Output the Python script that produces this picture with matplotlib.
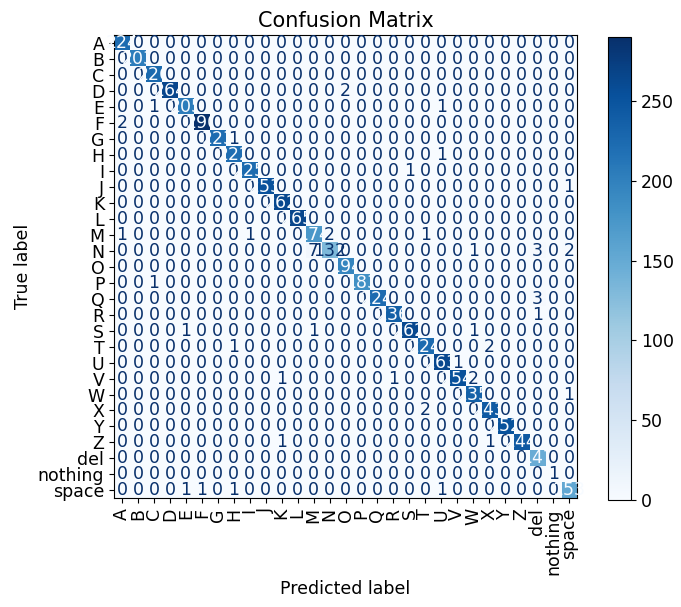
import numpy as np
import matplotlib
matplotlib.use('Agg')
import matplotlib.pyplot as plt

labels = ['A','B','C','D','E','F','G','H','I','J','K','L','M','N','O','P','Q','R','S','T',
          'U','V','W','X','Y','Z','del','nothing','space']

diag = [224, 203, 226, 264, 205, 290, 223, 222, 225, 253, 262, 265, 174, 132, 194,
        183, 224, 236, 262, 224, 263, 254, 235, 243, 252, 244, 147, 1, 153]

# misclassifications: (true, predicted, count)
errors = [
    ('D', 'O', 2),
    ('E', 'C', 1), ('E', 'U', 1),
    ('F', 'A', 2),
    ('G', 'H', 1),
    ('H', 'U', 1),
    ('I', 'S', 1),
    ('J', 'space', 1),
    ('M', 'A', 1), ('M', 'I', 1), ('M', 'N', 2), ('M', 'T', 1),
    ('N', 'M', 7), ('N', 'W', 1), ('N', 'del', 3), ('N', 'space', 2),
    ('P', 'C', 1),
    ('Q', 'del', 3),
    ('R', 'del', 1),
    ('S', 'E', 1), ('S', 'M', 1), ('S', 'W', 1),
    ('T', 'H', 1), ('T', 'X', 2),
    ('U', 'V', 1),
    ('V', 'K', 1), ('V', 'R', 1), ('V', 'W', 2),
    ('W', 'space', 1),
    ('X', 'T', 2),
    ('Z', 'K', 1), ('Z', 'X', 1),
    ('space', 'E', 1), ('space', 'F', 1), ('space', 'H', 1), ('space', 'U', 1),
]

n = len(labels)
cm = np.zeros((n, n), dtype=int)
for i in range(n):
    cm[i, i] = diag[i]
for t, p, v in errors:
    cm[labels.index(t), labels.index(p)] = v

plt.rcParams['font.size'] = 12.5

fig = plt.figure(figsize=(6.81, 6.07), dpi=100)
ax = fig.add_axes([0.1674, 0.179, 0.680, 0.763])
cax = fig.add_axes([0.893, 0.176, 0.034, 0.763])

cmap = plt.cm.Blues
im = ax.imshow(cm, cmap=cmap, interpolation='nearest')
fig.colorbar(im, cax=cax)

thresh = (cm.max() + cm.min()) / 2.0
for i in range(n):
    for j in range(n):
        col = cmap(0) if cm[i, j] >= thresh else cmap(1.0)
        ax.text(j, i, format(cm[i, j], 'd'), ha='center', va='center', color=col, fontsize=12.5)

ax.set_xticks(np.arange(n))
ax.set_yticks(np.arange(n))
ax.set_xticklabels(labels, rotation='vertical')
ax.set_yticklabels(labels)
ax.set_xlabel('Predicted label')
ax.set_ylabel('True label')
ax.set_title('Confusion Matrix', fontsize=15)

fig.savefig('out.png', dpi=100)
